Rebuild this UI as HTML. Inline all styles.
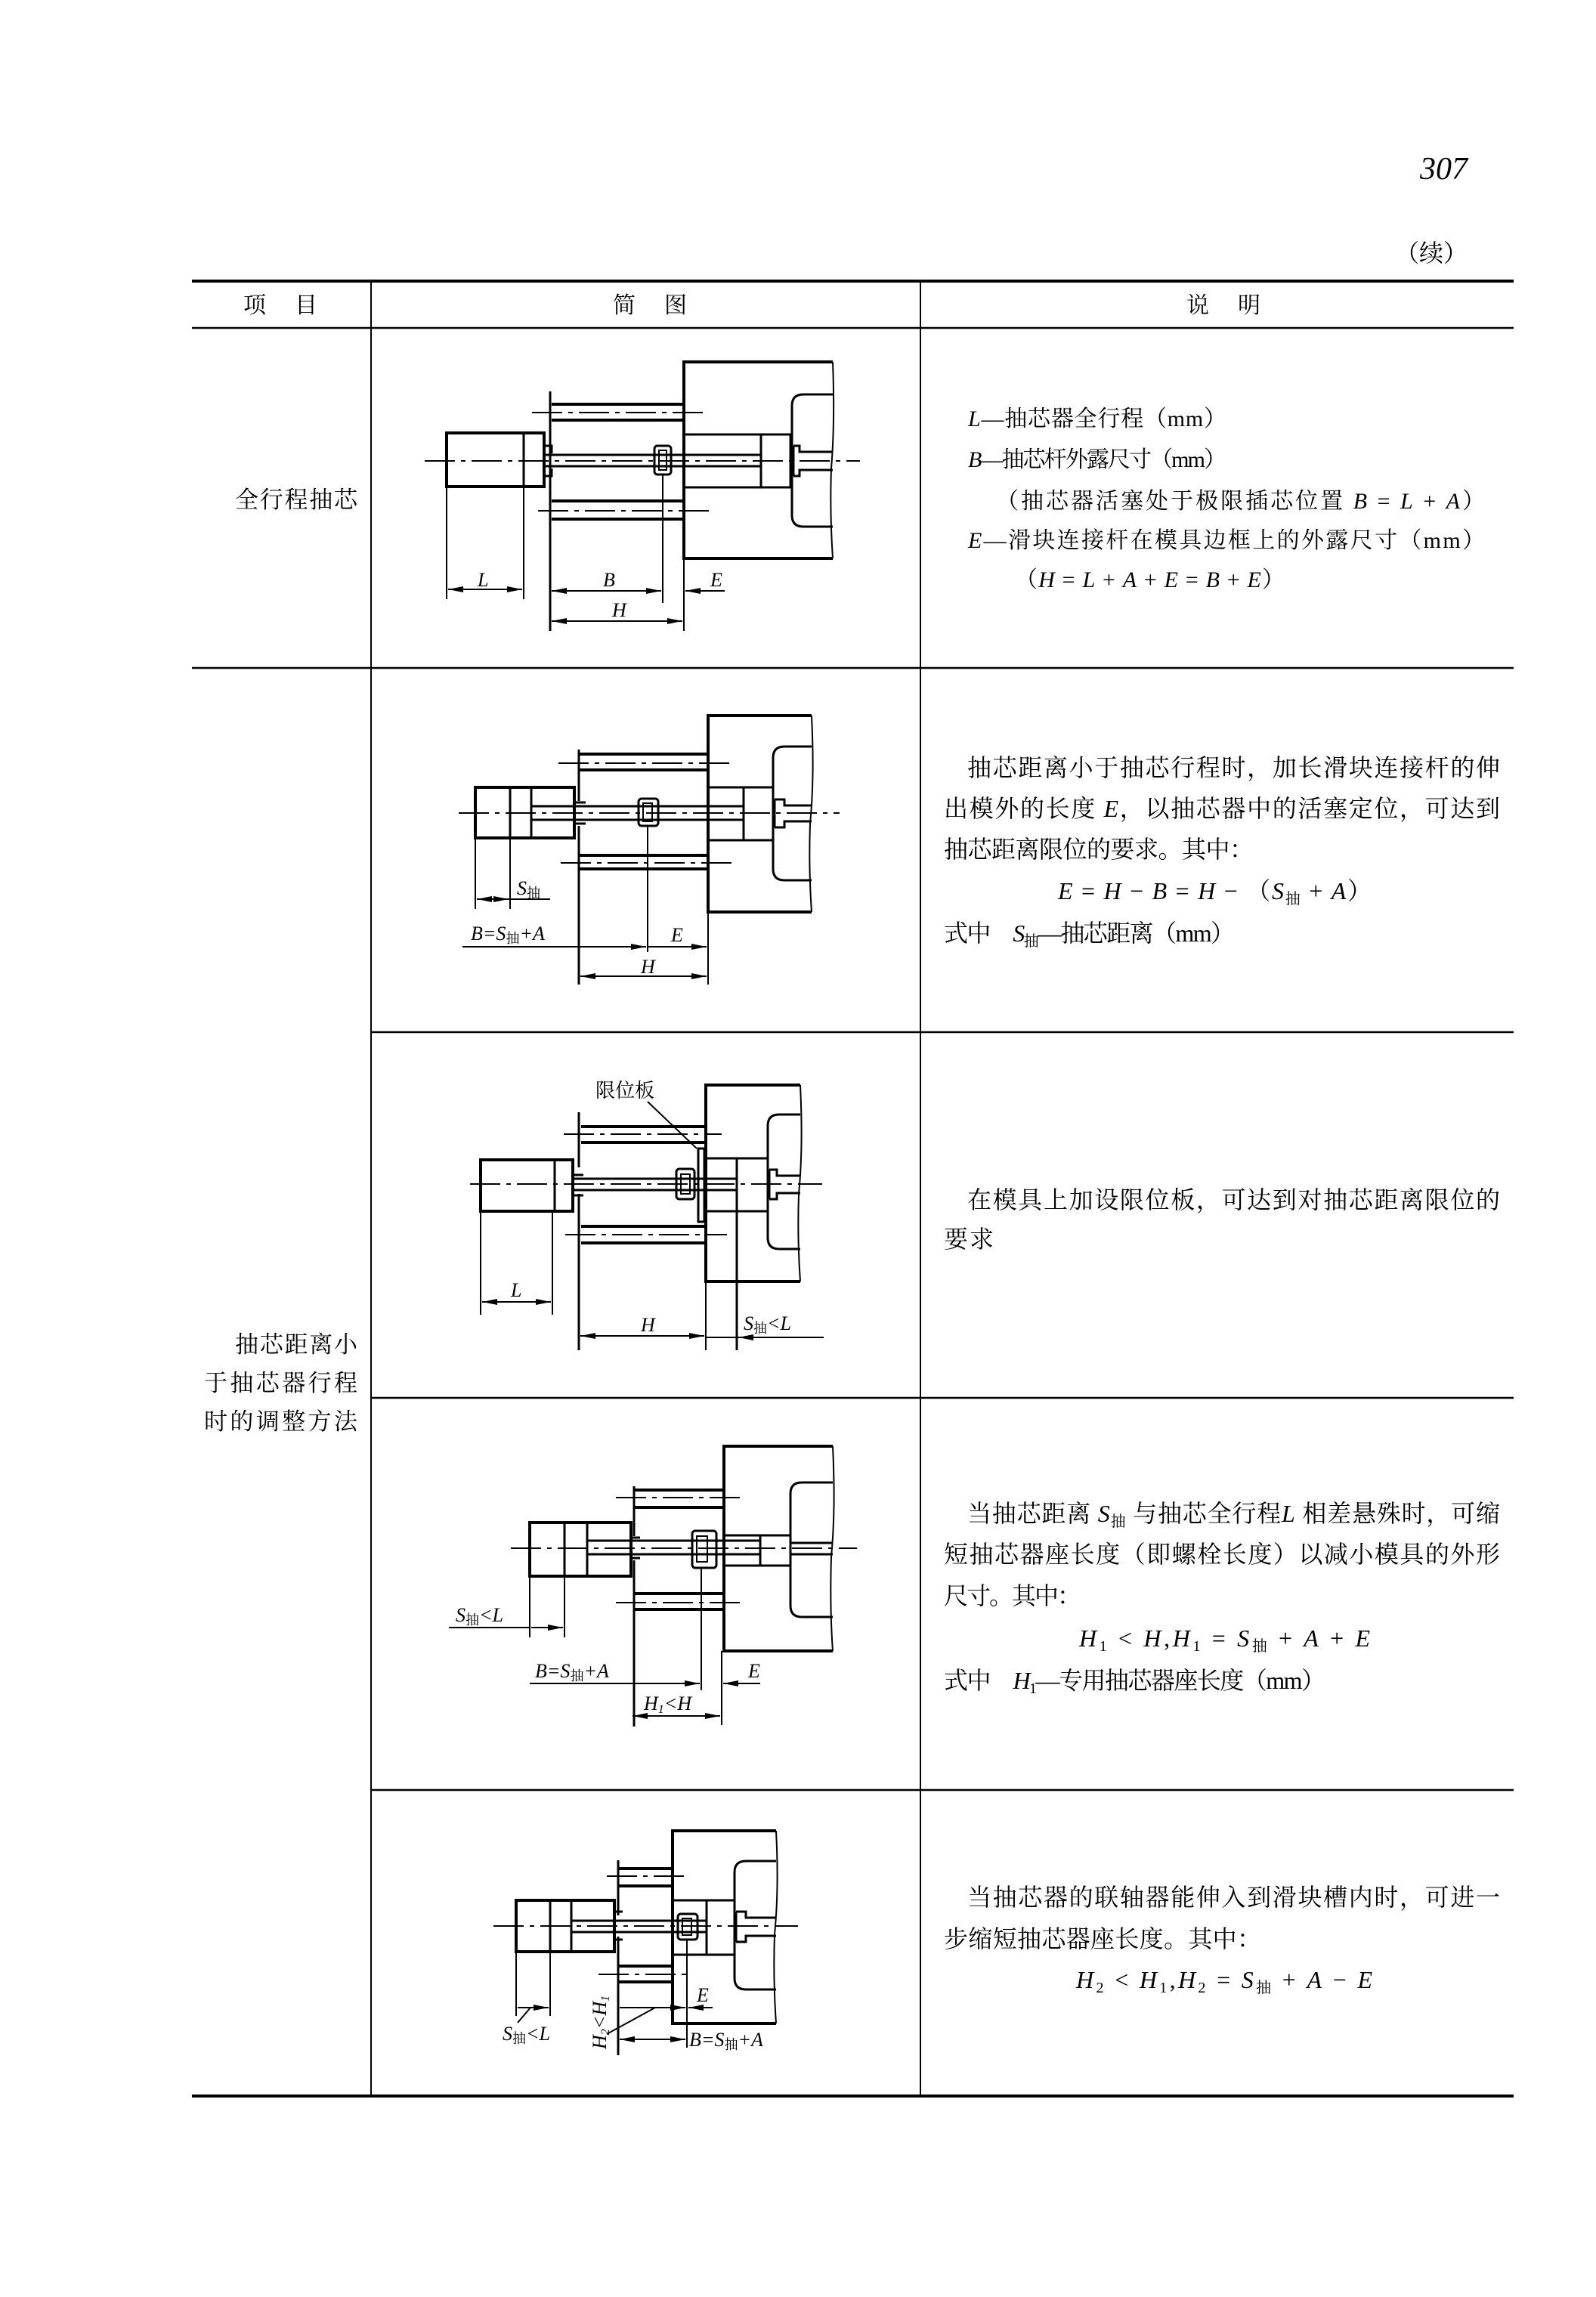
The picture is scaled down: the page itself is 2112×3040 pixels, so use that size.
<!DOCTYPE html>
<html><head><meta charset="utf-8">
<style>
html,body{margin:0;padding:0;background:#fff;}
svg{display:block;}
.cn{font-family:"Liberation Serif","Noto Serif CJK SC",serif;fill:#000;}
.it{font-family:"Liberation Serif",serif;font-style:italic;}
.lab{font-family:"Liberation Serif","Noto Serif CJK SC",serif;font-style:italic;font-size:26px;fill:#000;}
.th{stroke:#000;stroke-width:4;fill:none;}
.md{stroke:#000;stroke-width:3;fill:none;}
.tn{stroke:#000;stroke-width:2;fill:none;}
.cl{stroke:#000;stroke-width:2;fill:none;stroke-dasharray:40 8 6 8;}
.dm{stroke:#000;stroke-width:2;fill:none;}
</style></head>
<body>
<svg width="2112" height="3040" viewBox="0 0 2112 3040" xmlns="http://www.w3.org/2000/svg">
<defs>
<marker id="a" viewBox="0 0 10 4" refX="10" refY="2" markerWidth="22" markerHeight="8" markerUnits="userSpaceOnUse" orient="auto-start-reverse"><path d="M0,0 L10,2 L0,4 z" fill="#000"/></marker>
</defs>
<rect width="2112" height="3040" fill="#fff"/>

<text x="1879" y="237" class="it" font-size="42">307</text>
<text x="1846" y="346" class="cn" font-size="32">（续）</text>

<line x1="254" y1="372" x2="2003" y2="372" stroke="#000" stroke-width="4"/>
<line x1="254" y1="434" x2="2003" y2="434" stroke="#000" stroke-width="2.5"/>
<line x1="254" y1="884" x2="2003" y2="884" stroke="#000" stroke-width="2.5"/>
<line x1="491" y1="1366" x2="2003" y2="1366" stroke="#000" stroke-width="2.5"/>
<line x1="491" y1="1850" x2="2003" y2="1850" stroke="#000" stroke-width="2.5"/>
<line x1="491" y1="2369" x2="2003" y2="2369" stroke="#000" stroke-width="2.5"/>
<line x1="254" y1="2774" x2="2003" y2="2774" stroke="#000" stroke-width="4"/>
<line x1="491" y1="372" x2="491" y2="2774" stroke="#000" stroke-width="2"/>
<line x1="1218" y1="372" x2="1218" y2="2774" stroke="#000" stroke-width="2"/>

<text x="322" y="414" class="cn" font-size="30" textLength="98" lengthAdjust="spacing">项目</text>
<text x="811" y="414" class="cn" font-size="30" textLength="98" lengthAdjust="spacing">简图</text>
<text x="1570" y="414" class="cn" font-size="30" textLength="98" lengthAdjust="spacing">说明</text>

<text x="311" y="672" class="cn" font-size="31" textLength="162" lengthAdjust="spacing">全行程抽芯</text>
<text x="311" y="1790" class="cn" font-size="31" textLength="162" lengthAdjust="spacing">抽芯距离小</text>
<text x="270" y="1841" class="cn" font-size="31" textLength="203" lengthAdjust="spacing">于抽芯器行程</text>
<text x="270" y="1892" class="cn" font-size="31" textLength="203" lengthAdjust="spacing">时的调整方法</text>

<g class="cn" font-size="30">
<text x="1281" y="564" textLength="342" lengthAdjust="spacing"><tspan class="it">L</tspan>—抽芯器全行程（mm）</text>
<text x="1281" y="618" textLength="342" lengthAdjust="spacing"><tspan class="it">B</tspan>—抽芯杆外露尺寸（mm）</text>
<text x="1318" y="673" textLength="647" lengthAdjust="spacing">（抽芯器活塞处于极限插芯位置 <tspan class="it">B</tspan> = <tspan class="it">L</tspan> + <tspan class="it">A</tspan>）</text>
<text x="1281" y="725" textLength="684" lengthAdjust="spacing"><tspan class="it">E</tspan>—滑块连接杆在模具边框上的外露尺寸（mm）</text>
<text x="1343" y="777" textLength="357" lengthAdjust="spacing">（<tspan class="it">H</tspan> = <tspan class="it">L</tspan> + <tspan class="it">A</tspan> + <tspan class="it">E</tspan> = <tspan class="it">B</tspan> + <tspan class="it">E</tspan>）</text>
</g>

<g class="cn" font-size="32">
<text x="1280" y="1027" textLength="705" lengthAdjust="spacing">抽芯距离小于抽芯行程时，加长滑块连接杆的伸</text>
<text x="1249" y="1081" textLength="736" lengthAdjust="spacing">出模外的长度 <tspan class="it">E</tspan>，以抽芯器中的活塞定位，可达到</text>
<text x="1249" y="1135" textLength="410" lengthAdjust="spacing">抽芯距离限位的要求。其中：</text>
<text x="1400" y="1190" textLength="415" lengthAdjust="spacing"><tspan class="it">E</tspan> = <tspan class="it">H</tspan> − <tspan class="it">B</tspan> = <tspan class="it">H</tspan> − （<tspan class="it">S</tspan><tspan font-size="20" dy="6">抽</tspan><tspan dy="-6"> + </tspan><tspan class="it">A</tspan>）</text>
<text x="1249" y="1246" textLength="385" lengthAdjust="spacing">式中　<tspan class="it">S</tspan><tspan font-size="20" dy="6">抽</tspan><tspan dy="-6">—抽芯距离（mm）</tspan></text>
</g>

<g class="cn" font-size="32">
<text x="1280" y="1599" textLength="705" lengthAdjust="spacing">在模具上加设限位板，可达到对抽芯距离限位的</text>
<text x="1249" y="1651" textLength="66" lengthAdjust="spacing">要求</text>
</g>

<g class="cn" font-size="32">
<text x="1280" y="2014" textLength="705" lengthAdjust="spacing">当抽芯距离 <tspan class="it">S</tspan><tspan font-size="20" dy="6">抽</tspan><tspan dy="-6"> 与抽芯全行程</tspan><tspan class="it">L</tspan> 相差悬殊时，可缩</text>
<text x="1249" y="2068" textLength="736" lengthAdjust="spacing">短抽芯器座长度（即螺栓长度）以减小模具的外形</text>
<text x="1249" y="2123" textLength="182" lengthAdjust="spacing">尺寸。其中：</text>
<text x="1428" y="2179" textLength="385" lengthAdjust="spacing"><tspan class="it">H</tspan><tspan font-size="20" dy="6">1</tspan><tspan dy="-6"> &lt; </tspan><tspan class="it">H</tspan>,<tspan class="it">H</tspan><tspan font-size="20" dy="6">1</tspan><tspan dy="-6"> = </tspan><tspan class="it">S</tspan><tspan font-size="20" dy="6">抽</tspan><tspan dy="-6"> + </tspan><tspan class="it">A</tspan> + <tspan class="it">E</tspan></text>
<text x="1249" y="2235" textLength="505" lengthAdjust="spacing">式中　<tspan class="it">H</tspan><tspan font-size="20" dy="6">1</tspan><tspan dy="-6">—专用抽芯器座长度（mm）</tspan></text>
</g>

<g class="cn" font-size="32">
<text x="1280" y="2522" textLength="705" lengthAdjust="spacing">当抽芯器的联轴器能伸入到滑块槽内时，可进一</text>
<text x="1249" y="2577" textLength="420" lengthAdjust="spacing">步缩短抽芯器座长度。其中：</text>
<text x="1424" y="2631" textLength="392" lengthAdjust="spacing"><tspan class="it">H</tspan><tspan font-size="20" dy="6">2</tspan><tspan dy="-6"> &lt; </tspan><tspan class="it">H</tspan><tspan font-size="20" dy="6">1</tspan><tspan dy="-6">,</tspan><tspan class="it">H</tspan><tspan font-size="20" dy="6">2</tspan><tspan dy="-6"> = </tspan><tspan class="it">S</tspan><tspan font-size="20" dy="6">抽</tspan><tspan dy="-6"> + </tspan><tspan class="it">A</tspan> − <tspan class="it">E</tspan></text>
</g>

<!-- DIAGRAM 1 -->
<g>
<rect x="591" y="573" width="129" height="71" class="th"/>
<line x1="693" y1="573" x2="693" y2="644" class="md"/>
<path d="M720,590 L730,590 L730,600 M720,630 L730,630 L730,620" class="md"/>
<line x1="728" y1="518" x2="728" y2="835" class="md"/>
<line x1="730" y1="535" x2="905" y2="535" class="th"/>
<line x1="730" y1="556" x2="905" y2="556" class="th"/>
<line x1="704" y1="546" x2="930" y2="546" class="cl"/>
<line x1="730" y1="663" x2="905" y2="663" class="th"/>
<line x1="730" y1="687" x2="905" y2="687" class="th"/>
<line x1="712" y1="676" x2="939" y2="676" class="cl"/>
<line x1="720" y1="602" x2="1007" y2="602" class="md"/>
<line x1="720" y1="617" x2="1007" y2="617" class="md"/>
<rect x="866" y="590" width="22" height="38" rx="4" class="md"/>
<rect x="872" y="596" width="10" height="26" class="tn"/>
<line x1="877" y1="628" x2="877" y2="798" class="tn"/>
<path d="M1102,479 L905,479 L905,739 L1102,739" class="th"/>
<path d="M1102,479 Q1105,560 1100,620 Q1098,680 1102,739" class="tn"/>
<rect x="905" y="575" width="141" height="70" class="md"/>
<line x1="1007" y1="575" x2="1007" y2="645" class="md"/>
<path d="M1102,522 L1063,522 Q1048,522 1048,537 L1048,682 Q1048,697 1063,697 L1102,697" class="md"/>
<path d="M1050,590 L1058,590 L1058,598 L1102,598 M1050,630 L1058,630 L1058,622 L1102,622 M1050,590 L1050,630" class="md"/>
<line x1="562" y1="610" x2="1138" y2="610" class="cl"/>
<line x1="591" y1="644" x2="591" y2="793" class="tn"/>
<line x1="693" y1="644" x2="693" y2="793" class="tn"/>
<line x1="905" y1="739" x2="905" y2="835" class="tn"/>
<line x1="593" y1="780" x2="691" y2="780" class="dm" marker-start="url(#a)" marker-end="url(#a)"/>
<line x1="730" y1="782" x2="875" y2="782" class="dm" marker-start="url(#a)" marker-end="url(#a)"/>
<line x1="959" y1="782" x2="907" y2="782" class="dm" marker-end="url(#a)"/>
<line x1="730" y1="822" x2="903" y2="822" class="dm" marker-start="url(#a)" marker-end="url(#a)"/>
<text x="632" y="776" class="lab">L</text>
<text x="798" y="776" class="lab">B</text>
<text x="940" y="776" class="lab">E</text>
<text x="810" y="816" class="lab">H</text>
</g>

<!-- DIAGRAM 2 -->
<g>
<rect x="629" y="1042" width="131" height="67" class="th"/>
<line x1="675" y1="1042" x2="675" y2="1109" class="md"/>
<line x1="703" y1="1042" x2="703" y2="1109" class="md"/>
<path d="M760,1042 L760,1062 L775,1062 M760,1109 L760,1090 L775,1090" class="md"/>
<line x1="766" y1="992" x2="766" y2="1060" class="md"/>
<line x1="766" y1="1093" x2="766" y2="1303" class="md"/>
<line x1="766" y1="998" x2="937" y2="998" class="th"/>
<line x1="766" y1="1019" x2="937" y2="1019" class="th"/>
<line x1="739" y1="1010" x2="968" y2="1010" class="cl"/>
<line x1="766" y1="1132" x2="937" y2="1132" class="th"/>
<line x1="766" y1="1150" x2="937" y2="1150" class="th"/>
<line x1="742" y1="1142" x2="972" y2="1142" class="cl"/>
<line x1="703" y1="1067" x2="984" y2="1067" class="md"/>
<line x1="703" y1="1085" x2="984" y2="1085" class="md"/>
<rect x="845" y="1057" width="26" height="36" rx="4" class="md"/>
<rect x="851" y="1063" width="12" height="24" class="tn"/>
<line x1="857" y1="1093" x2="857" y2="1260" class="tn"/>
<path d="M1074,947 L937,947 L937,1207 L1074,1207" class="th"/>
<path d="M1074,947 Q1078,1030 1072,1090 Q1070,1150 1074,1207" class="tn"/>
<rect x="937" y="1042" width="86" height="70" class="md"/>
<line x1="984" y1="1042" x2="984" y2="1112" class="md"/>
<path d="M1074,988 L1038,988 Q1023,988 1023,1003 L1023,1150 Q1023,1165 1038,1165 L1074,1165" class="md"/>
<path d="M1025,1058 L1038,1058 L1038,1066 L1074,1066 M1025,1095 L1038,1095 L1038,1087 L1074,1087 M1025,1058 L1025,1095" class="md"/>
<line x1="607" y1="1076" x2="1111" y2="1076" class="cl"/>
<line x1="629" y1="1109" x2="629" y2="1203" class="tn"/>
<line x1="675" y1="1109" x2="675" y2="1203" class="tn"/>
<line x1="937" y1="1207" x2="937" y2="1303" class="tn"/>
<line x1="631" y1="1190" x2="673" y2="1190" class="dm" marker-start="url(#a)" marker-end="url(#a)"/>
<line x1="673" y1="1190" x2="728" y2="1190" class="dm"/>
<text x="684" y="1184" class="lab">S<tspan font-size="18" font-style="normal" dy="4">抽</tspan></text>
<text x="623" y="1244" class="lab" font-size="24">B=S<tspan font-size="18" font-style="normal" dy="4">抽</tspan><tspan dy="-4">+A</tspan></text>
<line x1="612" y1="1253" x2="855" y2="1253" class="dm" marker-end="url(#a)"/>
<line x1="857" y1="1253" x2="935" y2="1253" class="dm" marker-end="url(#a)"/>
<text x="888" y="1246" class="lab">E</text>
<line x1="768" y1="1292" x2="935" y2="1292" class="dm" marker-start="url(#a)" marker-end="url(#a)"/>
<text x="848" y="1288" class="lab">H</text>
</g>

<!-- DIAGRAM 3 -->
<g>
<text x="788" y="1452" class="cn" font-size="26">限位板</text>
<line x1="857" y1="1458" x2="922" y2="1520" class="tn"/>
<rect x="636" y="1535" width="122" height="68" class="th"/>
<line x1="734" y1="1535" x2="734" y2="1603" class="md"/>
<path d="M758,1535 L758,1555 L772,1555 M758,1603 L758,1582 L772,1582" class="md"/>
<line x1="766" y1="1472" x2="766" y2="1545" class="md"/>
<line x1="766" y1="1580" x2="766" y2="1787" class="md"/>
<line x1="769" y1="1491" x2="934" y2="1491" class="th"/>
<line x1="769" y1="1512" x2="934" y2="1512" class="th"/>
<line x1="746" y1="1501" x2="955" y2="1501" class="cl"/>
<line x1="769" y1="1623" x2="934" y2="1623" class="th"/>
<line x1="769" y1="1645" x2="934" y2="1645" class="th"/>
<line x1="748" y1="1634" x2="962" y2="1634" class="cl"/>
<rect x="924" y="1520" width="8" height="97" class="md"/>
<line x1="758" y1="1560" x2="975" y2="1560" class="md"/>
<line x1="758" y1="1575" x2="975" y2="1575" class="md"/>
<rect x="895" y="1547" width="24" height="40" rx="4" class="md"/>
<rect x="901" y="1554" width="12" height="26" class="tn"/>
<path d="M1059,1436 L934,1436 L934,1696 L1059,1696" class="th"/>
<path d="M1059,1436 Q1063,1520 1057,1580 Q1055,1640 1059,1696" class="tn"/>
<rect x="934" y="1533" width="82" height="70" class="md"/>
<line x1="975" y1="1533" x2="975" y2="1787" class="md"/>
<path d="M1059,1475 L1031,1475 Q1016,1475 1016,1490 L1016,1638 Q1016,1653 1031,1653 L1059,1653" class="md"/>
<path d="M1018,1548 L1028,1548 L1028,1556 L1059,1556 M1018,1587 L1028,1587 L1028,1579 L1059,1579 M1018,1548 L1018,1587" class="md"/>
<line x1="622" y1="1567" x2="1088" y2="1567" class="cl"/>
<line x1="636" y1="1603" x2="636" y2="1740" class="tn"/>
<line x1="731" y1="1603" x2="731" y2="1740" class="tn"/>
<line x1="934" y1="1696" x2="934" y2="1787" class="tn"/>
<line x1="638" y1="1723" x2="729" y2="1723" class="dm" marker-start="url(#a)" marker-end="url(#a)"/>
<text x="676" y="1716" class="lab">L</text>
<line x1="768" y1="1768" x2="932" y2="1768" class="dm" marker-start="url(#a)" marker-end="url(#a)"/>
<text x="848" y="1762" class="lab">H</text>
<line x1="934" y1="1770" x2="1090" y2="1770" class="dm"/>
<line x1="1012" y1="1770" x2="977" y2="1770" class="dm" marker-end="url(#a)"/>
<text x="984" y="1760" class="lab" font-size="24">S<tspan font-size="18" font-style="normal" dy="4">抽</tspan><tspan dy="-4">&lt;L</tspan></text>
</g>

<!-- DIAGRAM 4 -->
<g>
<rect x="701" y="2015" width="134" height="71" class="th"/>
<line x1="747" y1="2015" x2="747" y2="2086" class="md"/>
<line x1="777" y1="2015" x2="777" y2="2086" class="md"/>
<path d="M835,2015 L835,2035 L847,2035 M835,2086 L835,2062 L847,2062" class="md"/>
<line x1="839" y1="1967" x2="839" y2="2033" class="md"/>
<line x1="839" y1="2065" x2="839" y2="2285" class="md"/>
<line x1="840" y1="1972" x2="958" y2="1972" class="th"/>
<line x1="840" y1="1995" x2="958" y2="1995" class="th"/>
<line x1="815" y1="1982" x2="980" y2="1982" class="cl"/>
<line x1="840" y1="2109" x2="958" y2="2109" class="th"/>
<line x1="840" y1="2130" x2="958" y2="2130" class="th"/>
<line x1="815" y1="2121" x2="981" y2="2121" class="cl"/>
<line x1="777" y1="2039" x2="1006" y2="2039" class="md"/>
<line x1="777" y1="2057" x2="1006" y2="2057" class="md"/>
<rect x="916" y="2026" width="32" height="49" rx="4" class="md"/>
<rect x="922" y="2033" width="14" height="34" class="tn"/>
<line x1="928" y1="2075" x2="928" y2="2237" class="tn"/>
<path d="M1102,1914 L958,1914 L958,2185 L1102,2185" class="th"/>
<path d="M1102,1914 Q1106,2000 1100,2060 Q1098,2130 1102,2185" class="tn"/>
<rect x="958" y="2032" width="88" height="40" class="md"/>
<line x1="1006" y1="2032" x2="1006" y2="2072" class="md"/>
<path d="M1102,1962 L1061,1962 Q1046,1962 1046,1977 L1046,2125 Q1046,2140 1061,2140 L1102,2140" class="md"/>
<line x1="1046" y1="2042" x2="1102" y2="2042" class="md"/>
<line x1="1046" y1="2057" x2="1102" y2="2057" class="md"/>
<line x1="676" y1="2049" x2="1134" y2="2049" class="cl"/>
<line x1="701" y1="2086" x2="701" y2="2167" class="tn"/>
<line x1="747" y1="2086" x2="747" y2="2167" class="tn"/>
<line x1="955" y1="2185" x2="955" y2="2283" class="tn"/>
<line x1="594" y1="2154" x2="701" y2="2154" class="dm"/>
<line x1="703" y1="2154" x2="745" y2="2154" class="dm" marker-end="url(#a)"/>
<text x="603" y="2146" class="lab" font-size="24">S<tspan font-size="18" font-style="normal" dy="4">抽</tspan><tspan dy="-4">&lt;L</tspan></text>
<text x="708" y="2220" class="lab" font-size="24">B=S<tspan font-size="18" font-style="normal" dy="4">抽</tspan><tspan dy="-4">+A</tspan></text>
<line x1="701" y1="2228" x2="926" y2="2228" class="dm" marker-end="url(#a)"/>
<line x1="1006" y1="2228" x2="957" y2="2228" class="dm" marker-end="url(#a)"/>
<text x="990" y="2220" class="lab">E</text>
<line x1="837" y1="2271" x2="953" y2="2271" class="dm" marker-start="url(#a)" marker-end="url(#a)"/>
<text x="852" y="2263" class="lab" font-size="24">H<tspan font-size="16" dy="4">1</tspan><tspan dy="-4">&lt;H</tspan></text>
</g>

<!-- DIAGRAM 5 -->
<g>
<rect x="683" y="2515" width="130" height="68" class="th"/>
<line x1="728" y1="2515" x2="728" y2="2583" class="md"/>
<line x1="756" y1="2515" x2="756" y2="2583" class="md"/>
<path d="M813,2515 L813,2530 L824,2530 M813,2583 L813,2567 L824,2567" class="md"/>
<line x1="818" y1="2462" x2="818" y2="2535" class="md"/>
<line x1="818" y1="2563" x2="818" y2="2720" class="md"/>
<line x1="818" y1="2473" x2="890" y2="2473" class="th"/>
<line x1="818" y1="2496" x2="890" y2="2496" class="th"/>
<line x1="803" y1="2483" x2="912" y2="2483" class="cl"/>
<line x1="818" y1="2602" x2="890" y2="2602" class="th"/>
<line x1="818" y1="2623" x2="890" y2="2623" class="th"/>
<line x1="792" y1="2613" x2="909" y2="2613" class="cl"/>
<line x1="756" y1="2542" x2="935" y2="2542" class="md"/>
<line x1="756" y1="2557" x2="935" y2="2557" class="md"/>
<rect x="897" y="2533" width="26" height="34" rx="4" class="md"/>
<rect x="903" y="2539" width="12" height="22" class="tn"/>
<line x1="909" y1="2567" x2="909" y2="2710" class="tn"/>
<path d="M1027,2423 L890,2423 L890,2678 L1027,2678" class="th"/>
<path d="M1027,2423 Q1031,2500 1025,2560 Q1023,2620 1027,2678" class="tn"/>
<rect x="890" y="2515" width="82" height="72" class="md"/>
<line x1="935" y1="2515" x2="935" y2="2587" class="md"/>
<path d="M1027,2463 L987,2463 Q972,2463 972,2478 L972,2618 Q972,2633 987,2633 L1027,2633" class="md"/>
<path d="M974,2530 L987,2530 L987,2538 L1027,2538 M974,2570 L987,2570 L987,2562 L1027,2562 M974,2530 L974,2570" class="md"/>
<line x1="653" y1="2549" x2="1056" y2="2549" class="cl"/>
<line x1="683" y1="2583" x2="683" y2="2668" class="tn"/>
<line x1="728" y1="2583" x2="728" y2="2668" class="tn"/>
<line x1="685" y1="2657" x2="726" y2="2657" class="dm" marker-end="url(#a)"/>
<line x1="685" y1="2677" x2="702" y2="2657" class="tn"/>
<text x="665" y="2700" class="lab" font-size="24">S<tspan font-size="18" font-style="normal" dy="4">抽</tspan><tspan dy="-4">&lt;L</tspan></text>
<text transform="translate(802,2712) rotate(-90)" class="lab" font-size="24">H<tspan font-size="16" dy="4">2</tspan><tspan dy="-4">&lt;H</tspan><tspan font-size="16" dy="4">1</tspan></text>
<line x1="803" y1="2692" x2="867" y2="2657" class="tn"/>
<line x1="820" y1="2657" x2="907" y2="2657" class="dm" marker-end="url(#a)"/>
<line x1="943" y1="2657" x2="911" y2="2657" class="dm" marker-end="url(#a)"/>
<text x="922" y="2649" class="lab" font-size="24">E</text>
<line x1="820" y1="2699" x2="907" y2="2699" class="dm" marker-start="url(#a)" marker-end="url(#a)"/>
<text x="912" y="2708" class="lab" font-size="24">B=S<tspan font-size="18" font-style="normal" dy="4">抽</tspan><tspan dy="-4">+A</tspan></text>
</g>
</svg>
</body></html>
